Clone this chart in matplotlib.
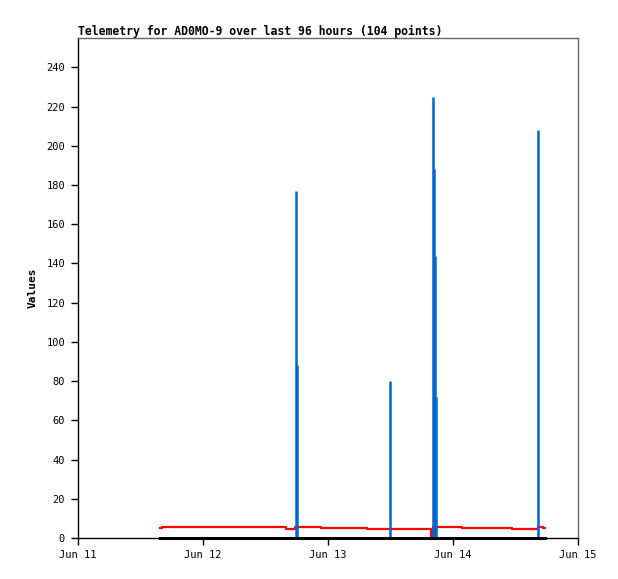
import matplotlib
matplotlib.use("Agg")
import matplotlib.pyplot as plt
import matplotlib.dates as mdates
import pandas as pd

# Red step series
red_times = ["2024-06-11 15:50", "2024-06-11 16:13", "2024-06-12 16:02", "2024-06-12 17:46",
             "2024-06-12 22:41", "2024-06-13 07:32", "2024-06-13 11:37", "2024-06-13 19:58",
             "2024-06-13 20:10", "2024-06-14 01:46", "2024-06-14 11:25", "2024-06-14 16:25",
             "2024-06-14 17:23", "2024-06-14 17:46"]
red_values = [5.1, 5.5, 4.4, 5.5, 5.0, 4.5, 4.7, 0.0, 5.8, 5.2, 4.5, 5.8, 5.0, 5.0]

# Black baseline series
black_times = ["2024-06-11 15:50", "2024-06-14 17:46"]
black_values = [0, 0]

# Blue impulse series
blue_times = ["2024-06-12 17:57", "2024-06-12 18:08", "2024-06-13 12:00", "2024-06-13 20:12",
              "2024-06-13 20:27", "2024-06-13 20:38", "2024-06-13 20:50", "2024-06-14 16:25"]
blue_values = [177, 88, 80, 225, 188, 144, 72, 208]

x_ticks = ["2024-06-11", "2024-06-12", "2024-06-13", "2024-06-14", "2024-06-15"]
y_ticks = list(range(0, 241, 20))

title = "Telemetry for AD0MO-9 over last 96 hours (104 points)"

mono = "DejaVu Sans Mono"

fig = plt.figure(figsize=(6.18, 5.79), dpi=100)
ax = fig.add_axes([77.5 / 618, 41 / 579, 500 / 618, 500 / 579])

rt = pd.to_datetime(red_times)
bt = pd.to_datetime(black_times)
ut = pd.to_datetime(blue_times)

ax.plot(rt, red_values, color="#ff0000", lw=1.6, drawstyle="steps-post", zorder=2)
ax.vlines(ut, 0, blue_values, color="#0066cc", lw=1.8, zorder=3)
ax.plot(bt, black_values, color="black", lw=2.2, zorder=4, clip_on=False)

xt = pd.to_datetime(x_ticks)
ax.set_xlim(xt[0], xt[-1])
ax.set_ylim(0, 255)
ax.set_xticks(xt)
ax.xaxis.set_major_formatter(mdates.DateFormatter("%b %d"))
ax.set_yticks(y_ticks)

for lab in ax.get_xticklabels() + ax.get_yticklabels():
    lab.set_family(mono)
    lab.set_fontsize(7.5)

ax.tick_params(axis="both", direction="out", length=5, width=1, color="black", pad=4)
ax.spines["left"].set_color("black")
ax.spines["bottom"].set_color("black")
ax.spines["top"].set_color("#666666")
ax.spines["right"].set_color("#666666")
for s in ax.spines.values():
    s.set_linewidth(1)

ax.set_ylabel("Values", family=mono, fontweight="bold", fontsize=8, labelpad=6)
ax.set_title(title, loc="left", family=mono, fontweight="bold", fontsize=8.3, pad=2)

fig.savefig("out.png", dpi=100)
